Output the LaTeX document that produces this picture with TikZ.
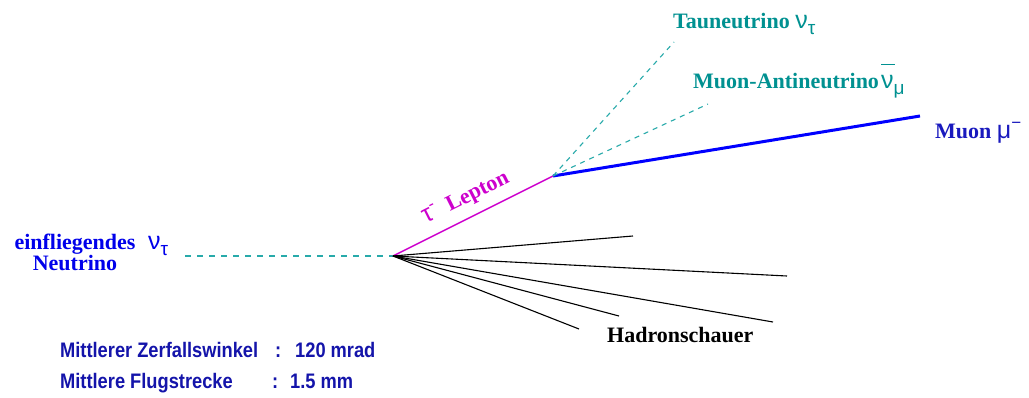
\documentclass[tikz,border=0pt]{standalone}
\usepackage{fontspec}
\setmainfont{Liberation Serif}
\newfontfamily\greekfont{Liberation Sans}
\newfontfamily\narrowsans[FakeStretch=0.87]{Liberation Sans}
\definecolor{nutext}{RGB}{0,145,145}
\definecolor{nuline}{RGB}{40,170,170}
\definecolor{intext}{RGB}{0,0,235}
\definecolor{muline}{RGB}{0,0,255}
\definecolor{mutext}{RGB}{25,25,190}
\definecolor{infotext}{RGB}{20,20,170}
\definecolor{taucol}{RGB}{205,0,205}
% Greek symbols with sub- and superscripts
\newcommand\gk[1]{{\greekfont\mdseries\fontsize{25}{25}\selectfont #1}}
\newcommand\gkbar[1]{\gk{\rlap{\raisebox{0.92em}{\rule{0.55em}{1pt}}}#1}}
\newcommand\gksub[1]{\raisebox{-0.28em}{\greekfont\mdseries\fontsize{19}{19}\selectfont #1}}
\newcommand\gksup[1]{\raisebox{0.45em}{\greekfont\mdseries\fontsize{17}{17}\selectfont #1}}
\begin{document}
\begin{tikzpicture}[x=1pt,y=-1pt,
  lbl/.style={font=\fontsize{22}{20}\selectfont\bfseries, inner sep=0pt},
  info/.style={font=\fontsize{21}{21}\selectfont\narrowsans\bfseries, text=infotext, inner sep=0pt, anchor=base west},
  nudash/.style={nuline, line width=1.1pt, dash pattern=on 5pt off 5pt},
  hadron/.style={black, line width=1.1pt}]
\useasboundingbox (0,0) rectangle (1029,397);
\fill[white] (0,0) rectangle (1029,397);

% vertices and particle end points
\coordinate (nustart) at (185,256);
\coordinate (vtx) at (393,256);
\coordinate (decay) at (553,176);
\coordinate (muend) at (920,116);
\coordinate (nutauend) at (674,42);
\coordinate (numuend) at (708,104);
\coordinate (h1) at (633,236);
\coordinate (h2) at (787,276);
\coordinate (h3) at (773,322);
\coordinate (h4) at (619,316);
\coordinate (h5) at (579,329);

% incoming neutrino
\draw[nuline, line width=1.3pt, dash pattern=on 6pt off 6pt] (nustart) -- (vtx);
% tau lepton
\draw[taucol, line width=1.4pt] (vtx) -- (decay);
% decay products
\draw[muline, line width=3pt] (decay) -- (muend);
\draw[nudash] (decay) -- (nutauend);
\draw[nudash] (decay) -- (numuend);
% hadronic shower
\foreach \h in {h1,h2,h3,h4,h5} \draw[hadron] (vtx) -- (\h);

% labels
\node[lbl, text=intext, align=center] (inlbl) at (75,252) {einfliegendes\\Neutrino};
\node[lbl, text=intext, anchor=base west] (innu) at (148,249) {\gk{ν}\gksub{τ}};
\node[lbl, text=taucol, rotate=26.6] (taulbl) at (466,198) {\gk{τ}\gksup{-}\ \ Lepton};
\node[lbl, text=nutext, anchor=base west] (nutaulbl) at (673,28) {Tauneutrino \gk{ν}\gksub{τ}};
\node[lbl, text=nutext, anchor=base west] (numulbl) at (693,88) {Muon-Antineutrino\kern2pt\gkbar{ν}\gksub{μ}};
\node[lbl, text=mutext, anchor=base west] (mulbl) at (935,138) {Muon \gk{μ}\gksup{−}};
\node[lbl, text=black, anchor=base west] (hadlbl) at (607,342) {Hadronschauer};

% summary
\node[info] (angle) at (60,357) {Mittlerer Zerfallswinkel};
\node[info] (anglecol) at (275,357) {:};
\node[info] (angleval) at (295,357) {120 mrad};
\node[info] (flight) at (60,388) {Mittlere Flugstrecke};
\node[info] (flightcol) at (272,388) {:};
\node[info] (flightval) at (290,388) {1.5 mm};
\end{tikzpicture}
\end{document}
